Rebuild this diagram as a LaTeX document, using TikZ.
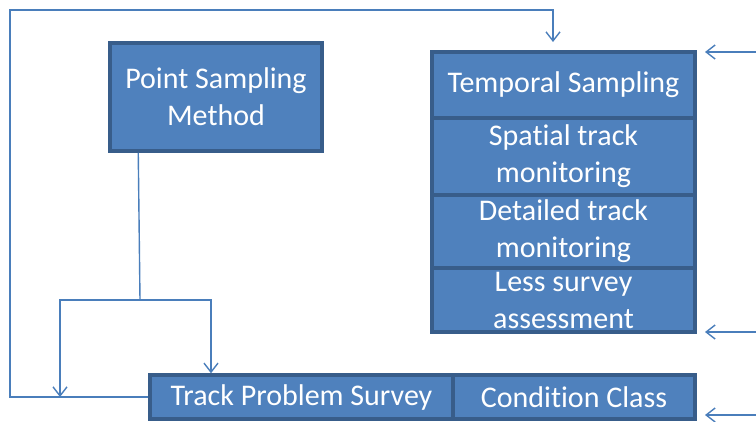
\documentclass[tikz,border=0pt]{standalone}
\usepackage{fontspec}
\setmainfont{Carlito}[Ligatures=NoCommon]
\usetikzlibrary{arrows.meta,calc}
\definecolor{boxfill}{HTML}{4F81BD}
\definecolor{boxline}{HTML}{385D8A}
\definecolor{conn}{HTML}{4A7EBB}
\begin{document}
\begin{tikzpicture}[x=1pt,y=-1pt,
  blk/.style={draw=boxline,line width=3.5pt,fill=boxfill,text=white,inner sep=0pt,
    align=center,font=\fontsize{30}{37}\selectfont},
  conn/.style={draw=conn,line width=1.4pt,-{Straight Barb[length=9pt,width=14pt,line width=1.4pt]}},
  plain/.style={draw=conn,line width=1.4pt}]
\useasboundingbox (0,0) rectangle (756,421);
\node[blk,minimum width=212pt,minimum height=108pt] (ps) at (216,97) {Point Sampling\\Method};
\node[blk,minimum width=263pt,minimum height=66pt] (ts) at (563.5,85) {Temporal Sampling};
\node[blk,minimum width=263pt,minimum height=77pt] (st) at (563.5,156.5) {Spatial track\\monitoring};
\node[blk,minimum width=263pt,minimum height=73pt] (dt) at (563.5,231.5) {Detailed track\\monitoring};
\node[blk,minimum width=263pt,minimum height=64pt] (ls) at (563.5,300) {Less survey\\assessment};
\node[blk,minimum width=303pt,minimum height=44pt] (tp) at (301.5,397) {Track Problem Survey};
\node[blk,minimum width=242pt,minimum height=44pt] (cc) at (574,397) {Condition Class};
% coordinates
\coordinate (psb) at ($(ps.south west)+(30,0)$);
\coordinate (j) at (140,300);
\coordinate (la) at (60,397);
\coordinate (lt) at (10,10);
\coordinate (tt) at (553,42);
\coordinate (r1) at (756,52);
\coordinate (r2) at (756,332);
\coordinate (r3) at (756,415);
% connectors
\draw[plain] (psb) -- (j);
\draw[conn] (j) -| (la);
\draw[conn] (j) -| (tp.north -| 211,0);
\draw[conn] (tp.west) -| (lt) -| (tt);
\draw[conn] (r1) -- (705,52);
\draw[conn] (r2) -- (705,332);
\draw[conn] (r3) -- (705,415);
\end{tikzpicture}
\end{document}
